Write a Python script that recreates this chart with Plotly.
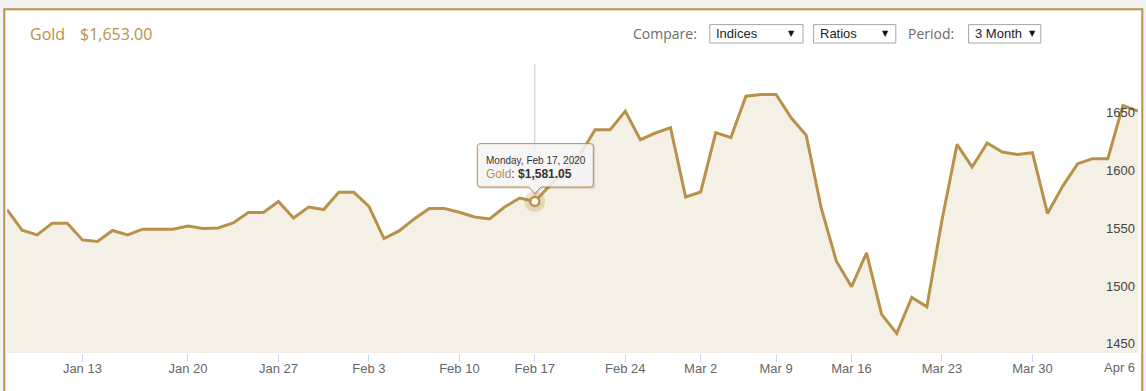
import plotly.graph_objects as go

# ---------------- data ----------------
gold_prices = [
    1574.1, 1556.2, 1552.2, 1562.3, 1562.3, 1547.8, 1546.4, 1556.0, 1552.2, 1557.1,
    1557.1, 1557.1, 1559.9, 1557.7, 1558.2, 1562.5, 1571.5, 1571.5, 1581.0, 1566.8,
    1576.3, 1574.1, 1589.0, 1589.0, 1576.9, 1549.0, 1555.6, 1566.0, 1574.9, 1574.9,
    1571.8, 1567.7, 1566.0, 1576.3, 1584.1, 1581.05, 1595.0, 1608.5, 1621.5, 1643.2,
    1643.2, 1659.2, 1634.5, 1640.3, 1644.9, 1585.0, 1589.3, 1640.6, 1636.3, 1672.2,
    1673.7, 1673.7, 1653.5, 1638.3, 1575.0, 1529.4, 1507.3, 1536.6, 1483.4, 1467.0,
    1498.1, 1490.0, 1564.9, 1630.5, 1610.9, 1631.6, 1623.8, 1621.8, 1623.3, 1570.6,
    1594.2, 1613.8, 1618.1, 1618.1, 1664.2, 1659.2,
]
point_index = list(range(len(gold_prices)))

tick_index = [5, 12, 18, 24, 30, 35, 41, 46, 51, 56, 62, 68, 74]
tick_labels = ["Jan 13", "Jan 20", "Jan 27", "Feb 3", "Feb 10", "Feb 17", "Feb 24",
               "Mar 2", "Mar 9", "Mar 16", "Mar 23", "Mar 30", "Apr 6"]
y_ticks = [1450, 1500, 1550, 1600, 1650]

hover_idx = 35
hover_date = "Monday, Feb 17, 2020"
series_name = "Gold"
title_price = "$1,653.00"

# ---------------- styling ----------------
W, H = 1146, 391
ML, MR, MT, MB = 7, 8, 64, 38
PW = W - ML - MR
PH = H - MT - MB
GOLD = "#b8914a"
FILL = "#f5f0e6"
XFONT = dict(family="Liberation Sans", size=13, color="#666666")


def px(X):
    return (X - ML) / PW


def py(Y):
    return (H - MB - Y) / PH


fig = go.Figure()

fig.add_trace(go.Scatter(
    x=point_index, y=gold_prices, mode="lines",
    line=dict(color=GOLD, width=3), fill="tozeroy", fillcolor=FILL,
    hoverinfo="skip", showlegend=False,
))

# hover halo and marker
fig.add_trace(go.Scatter(
    x=[point_index[hover_idx]], y=[gold_prices[hover_idx]], mode="markers",
    marker=dict(size=21, color="rgba(184,145,74,0.28)"),
    hoverinfo="skip", showlegend=False,
))
fig.add_trace(go.Scatter(
    x=[point_index[hover_idx]], y=[gold_prices[hover_idx]], mode="markers",
    marker=dict(size=9, color="white", line=dict(color=GOLD, width=2.5)),
    hoverinfo="skip", showlegend=False,
))

shapes = []
# outer frame
shapes.append(dict(type="rect", xref="paper", yref="paper",
                   x0=px(4.3), x1=px(1142.3), y0=py(9.3), y1=py(420),
                   fillcolor="white", line=dict(color=GOLD, width=2), layer="below"))
# crosshair
shapes.append(dict(type="line", xref="x", yref="y",
                   x0=point_index[hover_idx], x1=point_index[hover_idx],
                   y0=gold_prices[hover_idx], y1=1700,
                   line=dict(color="#c8c8c8", width=1), layer="below"))

# tooltip callout (pixel offsets relative to the hovered point)
L, R, T, B, AP, HW, RC = -57.5, 58.5, 57.9, 14.5, 7.9, 6, 3
path = (f"M {L+RC},{T} L {R-RC},{T} Q {R},{T} {R},{T-RC} L {R},{B+RC} Q {R},{B} {R-RC},{B} "
        f"L {HW},{B} L 0,{AP} L {-HW},{B} L {L+RC},{B} Q {L},{B} {L},{B+RC} "
        f"L {L},{T-RC} Q {L},{T} {L+RC},{T} Z")
shadow = (f"M {L+RC+1},{T-1} L {R-RC+1},{T-1} Q {R+1},{T-1} {R+1},{T-RC-1} L {R+1},{B+RC-1} "
          f"Q {R+1},{B-1} {R-RC+1},{B-1} L {HW+1},{B-1} L 1,{AP-1} L {-HW+1},{B-1} "
          f"L {L+RC+1},{B-1} Q {L+1},{B-1} {L+1},{B+RC-1} L {L+1},{T-RC-1} Q {L+1},{T-1} {L+RC+1},{T-1} Z")
shapes.append(dict(type="path", xref="x", yref="y", xsizemode="pixel", ysizemode="pixel",
                   xanchor=point_index[hover_idx], yanchor=gold_prices[hover_idx],
                   path=shadow, fillcolor="rgba(0,0,0,0.06)",
                   line=dict(color="rgba(0,0,0,0.10)", width=2), layer="above"))
shapes.append(dict(type="path", xref="x", yref="y", xsizemode="pixel", ysizemode="pixel",
                   xanchor=point_index[hover_idx], yanchor=gold_prices[hover_idx],
                   path=path, fillcolor="rgba(247,247,247,0.85)",
                   line=dict(color=GOLD, width=1), layer="above"))

# dropdown boxes
for x0, x1 in [(709.8, 803), (813.6, 895.8), (968.6, 1040.8)]:
    shapes.append(dict(type="rect", xref="paper", yref="paper",
                       x0=px(x0), x1=px(x1), y0=py(24.6), y1=py(43),
                       fillcolor="white", line=dict(color="#a6a6a6", width=1), layer="below"))

annotations = []
# title
annotations.append(dict(xref="paper", yref="paper", x=px(28), y=py(33.5), xanchor="left",
                        yanchor="middle", showarrow=False, text=series_name,
                        font=dict(family="Open Sans", size=16, color=GOLD)))
annotations.append(dict(xref="paper", yref="paper", x=px(78), y=py(33.5), xanchor="left",
                        yanchor="middle", showarrow=False, text=title_price,
                        font=dict(family="Open Sans", size=16, color=GOLD)))
# controls
for xx, txt in [(631, "Compare:"), (906, "Period:")]:
    annotations.append(dict(xref="paper", yref="paper", x=px(xx), y=py(33.5), xanchor="left",
                            yanchor="middle", showarrow=False, text=txt,
                            font=dict(family="Open Sans", size=14, color="#6b6b6b")))
for xx, txt in [(713.5, "Indices"), (817.5, "Ratios"), (972.5, "3 Month")]:
    annotations.append(dict(xref="paper", yref="paper", x=px(xx), y=py(33.8), xanchor="left",
                            yanchor="middle", showarrow=False, text=txt,
                            font=dict(family="Liberation Sans", size=13, color="#222222")))
for xx in [791, 885.7, 1032]:
    annotations.append(dict(xref="paper", yref="paper", x=px(xx), y=py(33.5), xanchor="center",
                            yanchor="middle", showarrow=False, text="▼",
                            font=dict(family="DejaVu Sans", size=8, color="#111111")))
# tooltip text
annotations.append(dict(xref="x", yref="y", x=point_index[hover_idx], y=gold_prices[hover_idx],
                        xanchor="left", yanchor="middle", xshift=-50.5, yshift=41.5,
                        showarrow=False, text=hover_date,
                        font=dict(family="Liberation Sans", size=10, color="#333333")))
annotations.append(dict(xref="x", yref="y", x=point_index[hover_idx], y=gold_prices[hover_idx],
                        xanchor="left", yanchor="middle", xshift=-50.5, yshift=28,
                        showarrow=False,
                        text=(f"<span style='color:{GOLD}'>{series_name}</span>: "
                              f"<b>${gold_prices[hover_idx]:,.2f}</b>"),
                        font=dict(family="Liberation Sans", size=12, color="#333333")))
# last x tick label (kept inside the frame, as the original right-aligns it at the edge)
annotations.append(dict(xref="x", yref="paper", x=tick_index[-1], y=py(367.5),
                        xanchor="center", yanchor="middle", xshift=-3, showarrow=False,
                        text=tick_labels[-1], font=XFONT))
axis_ticktext = tick_labels[:-1] + [""]

fig.update_layout(
    width=W, height=H,
    margin=dict(l=ML, r=MR, t=MT, b=MB, pad=0),
    paper_bgcolor="#f2f2f2", plot_bgcolor="white",
    shapes=shapes, annotations=annotations,
    hovermode=False,
    xaxis=dict(range=[0, len(gold_prices) - 1], tickvals=tick_index, ticktext=axis_ticktext,
               ticks="outside", ticklen=8, tickcolor="#ccd6eb", tickwidth=1,
               ticklabeloverflow="allow", ticklabelstandoff=-5,
               showgrid=False, zeroline=False, showline=False,
               tickfont=XFONT),
    yaxis=dict(range=[1450, 1700], tickvals=y_ticks, side="right",
               ticklabelposition="inside top", ticks="",
               showgrid=False, zeroline=False, showline=False,
               tickfont=dict(family="Liberation Sans", size=13, color="#444444")),
)

fig.write_html("out.html", config={"displayModeBar": False},
               post_script="document.body.style.margin='0';document.body.style.overflow='hidden';")
